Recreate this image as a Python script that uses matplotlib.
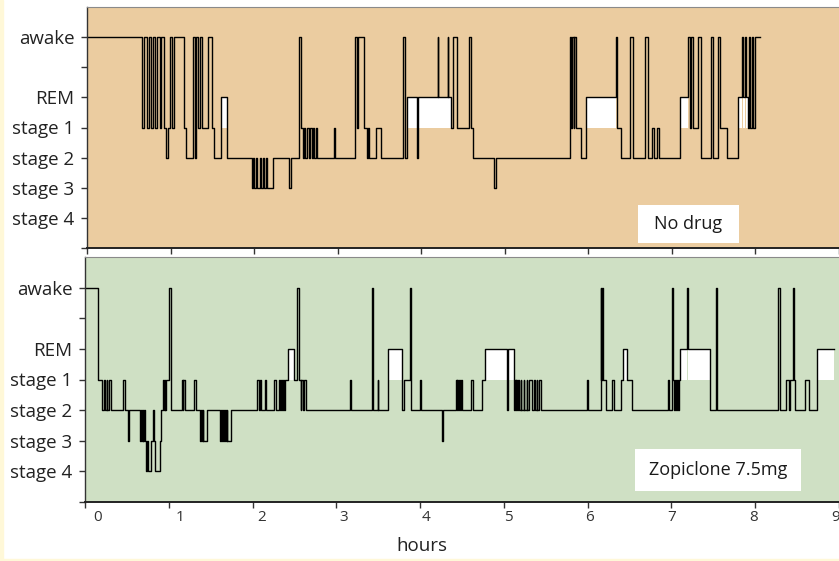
import matplotlib
matplotlib.use('Agg')
import matplotlib.pyplot as plt
from matplotlib.patches import Rectangle
import numpy as np

plt.rcParams['font.family'] = ['Open Sans', 'DejaVu Sans']

# stage codes: awake=7, REM=5, stage 1=4, stage 2=3, stage 3=2, stage 4=1
stageNames = ['', 'stage 4', 'stage 3', 'stage 2', 'stage 1', 'REM', '', 'awake']
REM = 5
S1 = 4

# No drug night: hour where each stage starts, and the stage
topTimes = [0, 0.659, 0.683, 0.714, 0.738, 0.770, 0.790, 0.817, 0.841, 0.873, 0.889,
            0.921, 0.944, 0.972, 0.988, 1.016, 1.044, 1.159, 1.190, 1.270, 1.294, 1.310,
            1.325, 1.357, 1.373, 1.381, 1.452, 1.500, 1.516, 1.603, 1.675, 1.972, 1.992,
            2.004, 2.028, 2.040, 2.067, 2.079, 2.111, 2.123, 2.147, 2.159, 2.230, 2.417,
            2.437, 2.536, 2.556, 2.580, 2.595, 2.615, 2.630, 2.655, 2.670, 2.690, 2.700,
            2.720, 2.740, 2.755, 2.953, 2.965, 3.202, 3.236, 3.248, 3.318, 3.349, 3.361,
            3.377, 3.464, 3.516, 3.786, 3.806, 3.833, 3.950, 3.962, 4.198, 4.206, 4.317,
            4.325, 4.361, 4.385, 4.425, 4.575, 4.590, 4.624, 4.867, 4.893, 5.778, 5.798,
            5.806, 5.825, 5.833, 5.849, 5.917, 5.972, 6.337, 6.345, 6.393, 6.504, 6.536,
            6.679, 6.710, 6.766, 6.790, 6.821, 6.845, 7.099, 7.198, 7.218, 7.226, 7.250,
            7.317, 7.345, 7.464, 7.488, 7.548, 7.571, 7.663, 7.790, 7.845, 7.857, 7.873,
            7.885, 7.913, 7.925, 7.937, 7.960, 7.972, 7.990]
topStages = [7, 4, 7, 4, 7, 4, 7, 4, 7, 4, 7,
             4, 3, 4, 7, 4, 7, 4, 3, 7, 3, 7,
             4, 7, 4, 4, 7, 4, 3, 5, 3, 2, 3,
             2, 3, 2, 3, 2, 3, 2, 3, 2, 3, 2,
             3, 7, 4, 3, 4, 3, 4, 3, 4, 3, 4,
             3, 4, 3, 4, 3, 7, 4, 7, 4, 3, 4,
             3, 4, 3, 7, 3, 5, 3, 5, 7, 5, 7,
             5, 4, 7, 4, 7, 4, 3, 2, 3, 7, 4,
             7, 4, 7, 4, 3, 5, 7, 4, 3, 7, 3,
             7, 3, 4, 3, 4, 3, 5, 7, 4, 7, 4,
             7, 3, 7, 3, 7, 4, 3, 5, 7, 5, 7,
             5, 4, 7, 4, 7, 4, 7]
topEnd = 8.052

# Zopiclone 7.5mg night
botTimes = [0, 0.159, 0.206, 0.226, 0.238, 0.258, 0.268, 0.290, 0.306, 0.456, 0.472,
            0.516, 0.528, 0.655, 0.667, 0.675, 0.687, 0.695, 0.710, 0.718, 0.734, 0.742,
            0.750, 0.790, 0.810, 0.818, 0.841, 0.897, 0.913, 0.937, 0.945, 0.952, 0.960,
            0.968, 1.004, 1.024, 1.155, 1.167, 1.175, 1.190, 1.302, 1.321, 1.369, 1.385,
            1.393, 1.405, 1.413, 1.460, 1.607, 1.623, 1.631, 1.647, 1.655, 1.671, 1.679,
            1.690, 1.698, 1.746, 2.059, 2.079, 2.087, 2.099, 2.147, 2.159, 2.254, 2.282,
            2.321, 2.329, 2.337, 2.353, 2.361, 2.377, 2.389, 2.425, 2.492, 2.532, 2.556,
            2.575, 2.583, 2.603, 2.611, 2.639, 3.167, 3.179, 3.421, 3.437, 3.492, 3.500,
            3.619, 3.782, 3.802, 3.877, 3.897, 3.996, 4.012, 4.258, 4.278, 4.425, 4.437,
            4.445, 4.457, 4.465, 4.480, 4.488, 4.504, 4.607, 4.627, 4.742, 4.778, 5.036,
            5.048, 5.119, 5.131, 5.139, 5.147, 5.159, 5.167, 5.183, 5.200, 5.210, 5.238,
            5.246, 5.270, 5.278, 5.300, 5.330, 5.365, 5.373, 5.390, 5.400, 5.420, 5.440,
            5.988, 6.008, 6.155, 6.163, 6.169, 6.185, 6.222, 6.294, 6.318, 6.401, 6.425,
            6.468, 6.528, 6.956, 6.968, 7.008, 7.020, 7.036, 7.044, 7.060, 7.068, 7.083,
            7.091, 7.099, 7.190, 7.198, 7.458, 7.536, 7.548, 8.274, 8.298, 8.373, 8.405,
            8.421, 8.448, 8.460, 8.480, 8.591, 8.639, 8.742]
botStages = [7, 4, 3, 4, 3, 4, 3, 4, 3, 4, 3,
             2, 3, 2, 3, 2, 3, 2, 3, 2, 1, 2,
             1, 2, 3, 2, 1, 2, 3, 4, 3, 4, 3,
             4, 7, 3, 4, 3, 4, 3, 4, 3, 2, 3,
             2, 3, 2, 3, 2, 3, 2, 3, 2, 3, 2,
             3, 2, 3, 4, 3, 4, 3, 4, 3, 4, 3,
             4, 3, 4, 3, 4, 3, 4, 5, 4, 7, 4,
             3, 4, 3, 4, 3, 4, 3, 7, 3, 4, 3,
             5, 3, 4, 7, 3, 4, 3, 2, 3, 4, 3,
             4, 3, 4, 3, 4, 3, 4, 3, 4, 5, 3,
             5, 3, 4, 3, 4, 3, 4, 3, 4, 3, 4,
             3, 4, 3, 4, 3, 4, 3, 4, 3, 4, 3,
             4, 3, 7, 4, 7, 4, 3, 4, 3, 4, 5,
             4, 3, 4, 3, 7, 4, 3, 4, 3, 4, 3,
             4, 5, 7, 5, 3, 7, 3, 7, 3, 4, 3,
             4, 7, 4, 3, 4, 3, 5]
botEnd = 8.944

xTickLabels = ['0', '1', '2', '3', '4', '5', '6', '7', '8', '9']

W, H = 839, 561
fig = plt.figure(figsize=(W / 100, H / 100), dpi=100)
fig.patch.set_facecolor('white')
# thin cream frame on the left and bottom
fig.patches.append(Rectangle((0, 0), 2.5 / W, 1, transform=fig.transFigure, color='#FFF8D8', zorder=0))
fig.patches.append(Rectangle((0, 0), 1, 2.5 / H, transform=fig.transFigure, color='#FFF8D8', zorder=0))

def toSteps(times, stages, endTime):
  xs, ys = [], []
  bounds = list(times[1:]) + [endTime]
  for t0, t1, s in zip(times, bounds, stages):
    xs += [t0, t1]
    ys += [s, s]
  return np.array(xs), np.array(ys)

def drawPanel(rect, times, stages, endTime, bg, xmax, label, boxRect, textPos, showXLabels):
  ax = fig.add_axes(rect)
  ax.set_facecolor(bg)
  xs, ys = toSteps(times, stages, endTime)
  ax.fill_between(xs, S1, ys, where=(ys == REM), color='white', linewidth=0, zorder=1)
  ax.plot(xs, ys, color='black', linewidth=1.0, zorder=2)
  ax.set_xlim(0, xmax)
  ax.set_ylim(0, 8)
  ax.set_yticks(range(8))
  ax.set_yticklabels(stageNames, fontsize=13.5, color='#222222')
  ax.set_xticks(range(10))
  ax.set_xticklabels([])
  if showXLabels:
    ax.set_xticks([0.155 + 0.9786 * i for i in range(10)], minor=True)
    ax.set_xticklabels(xTickLabels, minor=True, fontsize=11, color='#333333')
    ax.tick_params(axis='x', which='minor', length=0, pad=6)
  ax.tick_params(axis='both', which='major', length=4, width=1, color='#333333', direction='out')
  ax.tick_params(axis='y', pad=5)
  ax.spines['right'].set_visible(False)
  ax.spines['top'].set_color('#8a8a8a')
  ax.spines['left'].set_color('#333333')
  ax.spines['bottom'].set_color('#222222')
  ax.spines['bottom'].set_linewidth(1.4)
  ax.spines['left'].set_linewidth(1.0)
  ax.add_patch(Rectangle(boxRect[:2], boxRect[2], boxRect[3], transform=ax.transAxes,
                         facecolor='white', edgecolor='none', zorder=3))
  ax.text(textPos[0], textPos[1], label, transform=ax.transAxes, ha='center', va='center',
          fontsize=13, color='#1a1a1a', zorder=4)
  return ax

axTop = drawPanel([87 / W, 1 - 248 / H, 752 / W, 241 / H], topTimes, topStages, topEnd,
                  '#EBCCA0', 752 / 84, 'No drug',
                  (0.7327, 0.0207, 0.1343, 0.1577), (0.7998, 0.0996), False)
axBot = drawPanel([85 / W, 1 - 502 / H, 754 / W, 245 / H], botTimes, botStages, botEnd,
                  '#CFE0C4', 754 / 84, 'Zopiclone 7.5mg',
                  (0.7294, 0.0449, 0.2202, 0.1714), (0.8395, 0.1306), True)

fig.text(422 / W, 1 - 546 / H, 'hours', ha='center', va='center', fontsize=13.5, color='#222222')

plt.savefig('out.png', dpi=100)
